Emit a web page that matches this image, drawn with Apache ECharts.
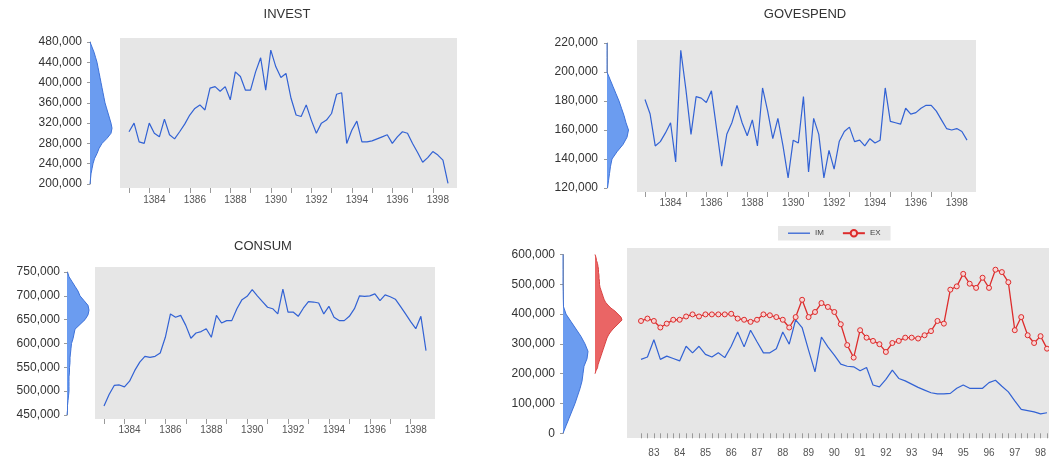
<!DOCTYPE html>
<html><head><meta charset="utf-8">
<script src="https://cdn.jsdelivr.net/npm/echarts@6/dist/echarts.min.js"></script>
<style>html,body{margin:0;padding:0;background:#fff;}#c{width:1049px;height:461px;}</style>
</head><body><div id="c"></div>
<script>
// ---------- categories ----------
const quarters = [
 '1383Q1','1383Q2','1383Q3','1383Q4','1384Q1','1384Q2','1384Q3','1384Q4',
 '1385Q1','1385Q2','1385Q3','1385Q4','1386Q1','1386Q2','1386Q3','1386Q4',
 '1387Q1','1387Q2','1387Q3','1387Q4','1388Q1','1388Q2','1388Q3','1388Q4',
 '1389Q1','1389Q2','1389Q3','1389Q4','1390Q1','1390Q2','1390Q3','1390Q4',
 '1391Q1','1391Q2','1391Q3','1391Q4','1392Q1','1392Q2','1392Q3','1392Q4',
 '1393Q1','1393Q2','1393Q3','1393Q4','1394Q1','1394Q2','1394Q3','1394Q4',
 '1395Q1','1395Q2','1395Q3','1395Q4','1396Q1','1396Q2','1396Q3','1396Q4',
 '1397Q1','1397Q2','1397Q3','1397Q4','1398Q1','1398Q2','1398Q3','1398Q4'
];
// ---------- series values ----------
const invest = [303000,320000,283000,280000,320000,300000,293000,328000,297000,289000,
 303000,318000,336000,349000,356000,346000,389000,392000,383000,392000,
 366000,421000,412000,385000,385000,421000,449000,385000,464000,431000,
 410000,418000,369000,336000,333000,356000,326000,300000,320000,326000,
 339000,377000,380000,280000,306000,324000,283000,283000,285000,289000,
 293000,297000,280000,293000,303000,300000,280000,262000,243000,252000,
 264000,257000,247000,201000];
const govespend = [181000,171000,149000,152000,158000,165000,138000,215000,188000,157000,
 183000,182000,179000,187000,161000,135000,157000,165000,177000,165000,
 156000,167000,149000,189000,173000,154000,168000,149000,127000,153000,
 151000,183000,131000,168000,157000,127000,146000,133000,152000,159000,
 162000,152000,153000,149000,154000,151000,153000,189000,166000,165000,
 164000,175000,171000,172000,175000,177000,177000,173000,167000,161000,
 160000,161000,159000,153000];
const consum = [469000,493000,512000,513000,509000,521000,543000,561000,573000,571000,
 573000,580000,613000,662000,655000,659000,638000,611000,622000,625000,
 631000,613000,659000,643000,648000,648000,673000,692000,699000,713000,
 700000,688000,676000,673000,662000,714000,666000,666000,657000,674000,
 688000,687000,685000,662000,678000,655000,648000,648000,657000,673000,
 700000,699000,700000,704000,690000,702000,698000,693000,678000,662000,
 646000,631000,657000,585000];
const im = [248000,256000,314000,248000,259000,251000,243000,292000,270000,292000,
 265000,256000,270000,254000,292000,340000,290000,346000,307000,270000,
 270000,284000,340000,299000,381000,355000,279000,206000,323000,290000,
 262000,232000,225000,223000,210000,221000,162000,156000,181000,212000,
 184000,176000,165000,154000,145000,136000,132000,132000,134000,151000,
 162000,151000,151000,151000,170000,178000,158000,139000,109000,80000,
 76000,72000,65000,69000];
const ex = [377000,385000,377000,355000,368000,381000,381000,392000,399000,392000,
 399000,399000,399000,399000,401000,385000,381000,374000,381000,399000,
 396000,390000,381000,355000,390000,448000,390000,407000,437000,424000,
 407000,366000,296000,254000,346000,321000,310000,299000,273000,303000,
 310000,321000,321000,318000,329000,343000,377000,368000,482000,493000,
 535000,502000,488000,522000,488000,549000,541000,507000,346000,390000,
 329000,303000,326000,284000];
// ---------- kernel density side plots (levels bottom -> top, relative density) ----------
const investLevels = [200000,210000,220000,230000,240000,250000,260000,270000,280000,290000,
 300000,310000,320000,330000,340000,350000,360000,370000,380000,390000,
 400000,410000,420000,430000,440000,450000,460000,470000,480000];
const investDensity = [0,0.5,1,2,3,4.5,7,9,12,17,21,22,21,19.5,18,16.5,15,14,13,12,11,10,9,8,7,5.5,4,2,0];
const govLevels = [120000,125000,130000,135000,140000,145000,150000,155000,160000,165000,
 170000,175000,180000,185000,190000,195000,200000,205000,210000,215000,220000];
const govDensity = [0.5,1.5,2.5,3.5,5,10,16,20,21.5,19,17,14.5,12,9,6,3,0,0,0,0,0];
const consumLevels = [450000,460000,470000,480000,490000,500000,510000,520000,530000,540000,
 550000,560000,570000,580000,590000,600000,610000,620000,630000,640000,
 650000,660000,670000,680000,690000,700000,710000,720000,730000,740000,750000];
const consumDensity = [0,0.5,0.5,1,1.5,2,2,2,2,2.5,2.5,3,3,3.5,4,4.5,6,7,8,13,18,21,22,21,17,13,11,8,5,2,0.5];
const imLevels = [0,25000,50000,75000,100000,125000,150000,175000,200000,225000,250000,275000,
 300000,325000,350000,375000,400000,425000,450000,475000,500000,525000,550000,575000,600000];
const imDensity = [0,3,6,9,12,14.5,17,19,20,21,24,25,22,18,13,8,3,0.5,0.3,0.2,0,0,0,0,0];
const exLevels = [200000,210000,220000,230000,240000,250000,260000,270000,280000,290000,
 300000,310000,320000,330000,340000,350000,360000,370000,380000,390000,
 400000,410000,420000,430000,440000,450000,460000,470000,480000,490000,
 500000,510000,520000,530000,540000,550000,560000,570000,580000,590000,600000];
const exDensity = [0,1,2.5,3,4,5,6,7,8,9,10,11,12,13.5,15.5,18,21,24,27,26,23,20,16,13,10.5,9,8,7,6,5,4.5,4.5,4,4,3.5,3.5,3,2.5,1.5,1,0];
// ---------- axis tick settings ----------
const investTicks = {min:200000, max:480000, interval:40000};
const govTicks = {min:120000, max:220000, interval:20000};
const consumTicks = {min:450000, max:750000, interval:50000};
const tradeTicks = {min:0, max:600000, interval:100000};

const FONT = 'Liberation Sans';
const BG = '#e6e6e6';
const BLUE = '#3262d4';
const RED = '#dd2c2c';
const DENS_MAX = 30;

function fmt(v){ return String(v).replace(/\B(?=(\d{3})+(?!\d))/g, ','); }

const grids=[], xAxes=[], yAxes=[], series=[];
function addGrid(g){ grids.push(Object.assign({outerBoundsMode:'none', containLabel:false, show:false, borderWidth:0}, g)); return grids.length-1; }
function addX(a){ xAxes.push(a); return xAxes.length-1; }
function addY(a){ yAxes.push(a); return yAxes.length-1; }

function bgGrid(r){
  const gi = addGrid(Object.assign({show:true, backgroundColor:BG, borderWidth:0}, r));
  addX({gridIndex:gi, type:'value', show:false});
  addY({gridIndex:gi, type:'value', show:false});
}
function density(r, levels, widths, fill, edge, ticks, margin){
  const gi = addGrid(r);
  const xi = addX({gridIndex:gi, type:'value', min:0, max:DENS_MAX, show:false});
  if (ticks) {
    addY({gridIndex:gi, type:'value', position:'left', min:ticks.min, max:ticks.max, interval:ticks.interval,
      axisLine:{show:true, lineStyle:{color:'#9a9a9a', width:1}},
      axisTick:{show:true, length:3, lineStyle:{color:'#9a9a9a'}},
      axisLabel:{formatter:fmt, margin:margin, fontSize:12, color:'#333', fontFamily:FONT},
      splitLine:{show:false}});
  }
  const yi = addY({gridIndex:gi, type:'category', position:'right', data:levels, boundaryGap:false, show:false});
  series.push({type:'line', xAxisIndex:xi, yAxisIndex:yi, data:widths, symbol:'none', silent:true, z:3,
    lineStyle:{color:edge, width:1}, areaStyle:{color:fill, opacity:1}});
}
// value range of the plot box from the label axis (pixel rows of the axis ends and the box)
function boxRange(ticks, axisTop, axisBottom, boxTop, boxBottom){
  const per = (ticks.max - ticks.min) / (axisBottom - axisTop);
  return [ticks.min - (boxBottom - axisBottom) * per, ticks.max + (axisTop - boxTop) * per];
}
function dataPanel(r, range, labelFn, tickFn, fmtFn, margin){
  const gi = addGrid(r);
  const xi = addX({gridIndex:gi, type:'category', data:quarters, boundaryGap:false,
    axisLine:{show:false},
    axisTick:{show:true, interval:tickFn, length:5, lineStyle:{color:'#9a9a9a'}},
    axisLabel:{interval:labelFn, formatter:fmtFn, margin:margin, fontSize:10, color:'#555', fontFamily:FONT},
    splitLine:{show:false}});
  const yi = addY({gridIndex:gi, type:'value', min:range[0], max:range[1], show:false});
  return {xi, yi};
}
const yearLabel = (i) => i % 8 === 5;
const yearTick = (i) => i % 4 === 0;
const fullYear = (v) => v.slice(0,4);

// ---- INVEST ----
bgGrid({left:120, top:38, width:337, height:150});
density({left:90, top:42, width:DENS_MAX, height:142}, investLevels, investDensity, '#6b9cf0', '#3f72d8', investTicks, 8);
let p = dataPanel({left:129, top:38, width:319, height:150}, boxRange(investTicks,42,184,38,188), yearLabel, yearTick, fullYear, 7);
series.push({type:'line', name:'INVEST', xAxisIndex:p.xi, yAxisIndex:p.yi, data:invest, symbol:'none', z:4, lineStyle:{color:BLUE, width:1.2}});

// ---- GOVESPEND ----
bgGrid({left:637, top:40, width:339, height:152});
density({left:607, top:43, width:DENS_MAX, height:145}, govLevels, govDensity, '#6b9cf0', '#3f72d8', govTicks, 9);
p = dataPanel({left:645, top:40, width:322, height:152}, boxRange(govTicks,43,188,40,192), yearLabel, yearTick, fullYear, 6);
series.push({type:'line', name:'GOVESPEND', xAxisIndex:p.xi, yAxisIndex:p.yi, data:govespend, symbol:'none', z:4, lineStyle:{color:BLUE, width:1.2}});

// ---- CONSUM ----
bgGrid({left:95, top:267, width:340, height:152});
density({left:67, top:272, width:DENS_MAX, height:143}, consumLevels, consumDensity, '#6b9cf0', '#3f72d8', consumTicks, 7);
p = dataPanel({left:104, top:267, width:322, height:152}, boxRange(consumTicks,272,415,267,419), yearLabel, yearTick, fullYear, 6);
series.push({type:'line', name:'CONSUM', xAxisIndex:p.xi, yAxisIndex:p.yi, data:consum, symbol:'none', z:4, lineStyle:{color:BLUE, width:1.2}});

// ---- IM / EX ----
bgGrid({left:627, top:248, width:422, height:190});
density({left:563, top:254.5, width:DENS_MAX, height:178.8}, imLevels, imDensity, '#6b9cf0', '#3f72d8', tradeTicks, 8);
density({left:595, top:254.5, width:DENS_MAX, height:119.2}, exLevels, exDensity, '#ea6565', '#d84444', null, 0);
p = dataPanel({left:641, top:248, width:406, height:190}, boxRange(tradeTicks,254.5,433.3,248,438),
  (i) => i % 4 === 2, 0, (v) => v.slice(2,4), 10);
series.push({type:'line', name:'IM', xAxisIndex:p.xi, yAxisIndex:p.yi, data:im, symbol:'none', z:4, lineStyle:{color:BLUE, width:1.2}, itemStyle:{color:BLUE}});
series.push({type:'line', name:'EX', xAxisIndex:p.xi, yAxisIndex:p.yi, data:ex, symbol:'circle', symbolSize:5, showAllSymbol:true, z:5,
  lineStyle:{color:RED, width:1.3}, itemStyle:{color:'#f7d4d4', borderColor:RED, borderWidth:1}});

const titleStyle = {fontSize:13, fontWeight:'normal', color:'#333', fontFamily:FONT};
const option = {
  animation:false,
  backgroundColor:'#ffffff',
  title:[
    {text:'INVEST', left:287, top:8, padding:0, textAlign:'center', textStyle:titleStyle},
    {text:'GOVESPEND', left:805, top:8, padding:0, textAlign:'center', textStyle:titleStyle},
    {text:'CONSUM', left:263, top:240, padding:0, textAlign:'center', textStyle:titleStyle}
  ],
  legend:{
    data:[
      {name:'IM', icon:'path://M0,0 L22,0 L22,1.3 L0,1.3 Z', itemStyle:{color:BLUE, borderWidth:0}},
      {name:'EX'}
    ],
    left:778, top:226, orient:'horizontal', backgroundColor:'#e8e8e8',
    padding:[3,10,3,10], itemWidth:22, itemHeight:8, itemGap:18, selectedMode:false,
    textStyle:{fontSize:8, color:'#444', fontFamily:FONT}},
  grid:grids, xAxis:xAxes, yAxis:yAxes, series:series
};
const chart = echarts.init(document.getElementById('c'), null, {renderer:'canvas'});
chart.setOption(option);
</script></body></html>
